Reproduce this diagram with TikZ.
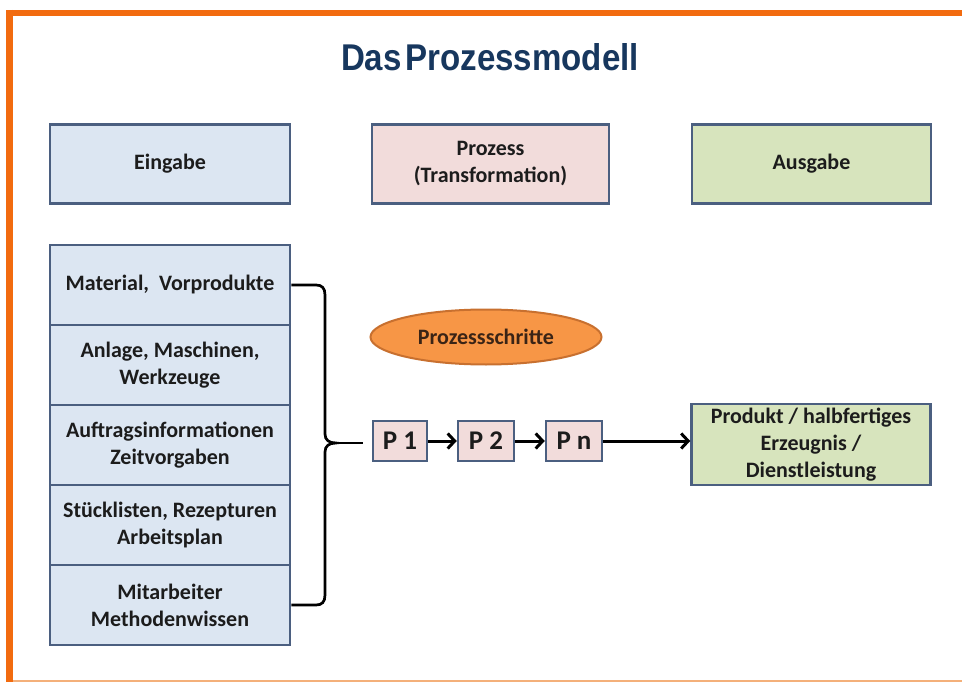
\documentclass[tikz,border=0pt]{standalone}
\usepackage{fontspec}
\usepackage{graphicx}
\setmainfont{Carlito}
\newfontfamily\titlefont{Liberation Sans}
\usetikzlibrary{arrows.meta,shapes.geometric}
\definecolor{frameorange}{HTML}{F26B0F}
\definecolor{framepeach}{HTML}{F4B07A}
\definecolor{boxline}{HTML}{4B5F80}
\definecolor{fillblue}{HTML}{DCE6F2}
\definecolor{fillpink}{HTML}{F2DCDB}
\definecolor{fillgreen}{HTML}{D7E4BD}
\definecolor{ellfill}{HTML}{F79646}
\definecolor{elldraw}{HTML}{C8702F}
\definecolor{titleblue}{HTML}{17375E}
\definecolor{txt}{HTML}{1C1C1C}
\definecolor{elltxt}{HTML}{3A2416}
\begin{document}
\begin{tikzpicture}[x=1pt,y=-1pt,
  basebox/.style={rectangle, draw=boxline, line width=2.5pt, inner sep=0pt, align=center,
    text=txt, font=\fontsize{22}{27}\selectfont\bfseries},
  bluebox/.style={basebox, fill=fillblue, minimum width=240pt, minimum height=80pt},
  pinkbox/.style={basebox, fill=fillpink},
  greenbox/.style={basebox, fill=fillgreen},
  pbox/.style={basebox, fill=fillpink, minimum height=40pt, font=\fontsize{27}{27}\selectfont\bfseries},
  brace/.style={draw=black, line width=2.7pt},
  arr/.style={draw=black, line width=3pt, -{Straight Barb[length=7pt,width=15pt]}}
]
\useasboundingbox (0,0) rectangle (962,682);
\fill[white] (0,0) rectangle (962,682);
% frame
\draw[frameorange, line width=6pt] (6,13) -- (962,13);
\draw[frameorange, line width=7.5pt] (9.5,10) -- (9.5,682);
\draw[framepeach, line width=2pt] (13,681) -- (962,681);
% title
\node[text=titleblue, inner sep=0pt] (title) at (490,57.5)
  {\resizebox{298pt}{27pt}{\titlefont\bfseries Das\kern0.12em Prozessmodell}};
% header boxes
\node[bluebox, minimum width=240pt, minimum height=79pt] (eing) at (170,164) {Eingabe};
\node[pinkbox, minimum width=237pt, minimum height=79pt] (proz) at (490.5,164) {Prozess\\(Transformation)};
\node[greenbox, minimum width=239pt, minimum height=79pt] (ausg) at (811.5,164) {Ausgabe};
% input stack
\node[bluebox] (m1) at (170,285) {Material,\ \ Vorprodukte};
\node[bluebox] (m2) at (170,365) {Anlage, Maschinen,\\Werkzeuge};
\node[bluebox] (m3) at (170,445) {Auftragsinformationen\\Zeitvorgaben};
\node[bluebox] (m4) at (170,525) {Stücklisten, Rezepturen\\Arbeitsplan};
\node[bluebox] (m5) at (170,605) {Mitarbeiter\\Methodenwissen};
% ellipse
\node[ellipse, fill=ellfill, draw=elldraw, line width=2pt, minimum width=231pt, minimum height=55pt,
  inner sep=0pt, text=elltxt, font=\fontsize{22}{27}\selectfont\bfseries] (schr) at (486,337) {Prozessschritte};
% process steps
\node[pbox, minimum width=54pt] (p1) at (400,441) {P 1};
\node[pbox, minimum width=56pt] (p2) at (486,441) {P 2};
\node[pbox, minimum width=56pt] (pn) at (574,441) {P n};
% output
\node[greenbox, minimum width=239pt, minimum height=81pt] (out) at (811,444.5)
  {\raisebox{0pt}[\height][\depth]{}Produkt / halbfertiges\\Erzeugnis /\\Dienstleistung};
% brace
\coordinate (tip) at (336,443);
\coordinate (lineend) at (363,443);
\draw[brace] (m1.east) -- (316,285) .. controls (322,285) and (325,288) .. (325,295)
  -- (325,434) .. controls (325,440) and (329,443) .. (tip)
  .. controls (329,443) and (325,446) .. (325,452)
  -- (325,595) .. controls (325,602) and (322,605) .. (316,605) -- (m5.east);
\draw[brace] (tip) -- (lineend);
% arrows
\draw[arr] (p1.east) -- (p2.west);
\draw[arr] (p2.east) -- (pn.west);
\draw[arr] (pn.east) -- (pn.east -| out.west);
\end{tikzpicture}
\end{document}
